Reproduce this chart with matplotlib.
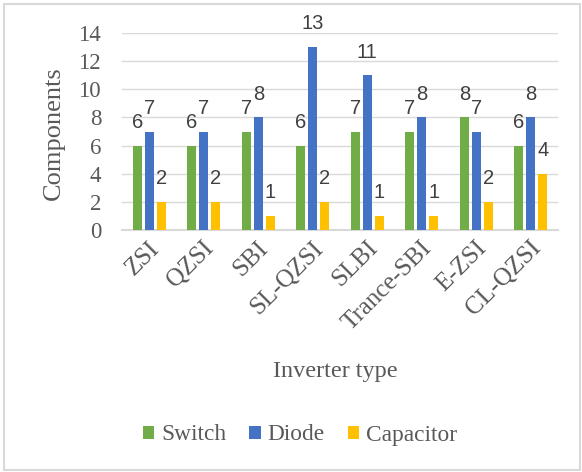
import matplotlib
matplotlib.use("Agg")
import matplotlib.pyplot as plt
import numpy as np
from matplotlib.patches import Rectangle
from matplotlib.transforms import ScaledTranslation

categories = ["ZSI", "QZSI", "SBI", "SL-QZSI", "SLBI", "Trance-SBI", "E-ZSI", "CL-QZSI"]
switch = [6, 6, 7, 6, 7, 7, 8, 6]
diode = [7, 7, 8, 13, 11, 8, 7, 8]
capacitor = [2, 2, 1, 2, 1, 1, 2, 4]
yticks = [0, 2, 4, 6, 8, 10, 12, 14]

series = [("Switch", switch, "#70AD47"),
          ("Diode", diode, "#4472C4"),
          ("Capacitor", capacitor, "#FFC000")]

text_color = "#595959"
grid_color = "#D9D9D9"
serif = "Liberation Serif"
sans = "Liberation Sans"

plt.rcParams["font.family"] = [serif, "DejaVu Serif"]

W, H = 582, 472
fig = plt.figure(figsize=(W / 100, H / 100), dpi=100)
ax = fig.add_axes([122 / W, 1 - 230 / H, (558 - 122) / W, (230 - 33) / H])

x = np.arange(len(categories))
width = 0.165
step = 0.22
for i, (name, vals, color) in enumerate(series):
    pos = x + (i - 1) * step
    ax.bar(pos, vals, width=width, color=color, label=name, zorder=3)
    for px, v in zip(pos, vals):
        ax.annotate(str(v), (px, v), xytext=(0, 12.7), textcoords="offset points",
                    ha="center", va="baseline", fontsize=14.5,
                    family=sans, color="#404040", zorder=4)

ax.set_xlim(-0.5, len(categories) - 0.5)
ax.set_ylim(0, 14)
ax.set_yticks(yticks)
ax.set_yticklabels([str(t) for t in yticks], fontsize=16.5, color=text_color)
ax.set_xticks(x)
ax.set_xticklabels(categories, fontsize=18, color=text_color, rotation=45,
                   ha="right", va="top", rotation_mode="anchor")
ax.tick_params(axis="both", length=0)
ax.tick_params(axis="y", pad=15)
ax.tick_params(axis="x", pad=0)
shift = ScaledTranslation(-1 / 100, -7 / 100, fig.dpi_scale_trans)
for lbl in ax.get_xticklabels():
    lbl.set_transform(lbl.get_transform() + shift)
ax.grid(axis="y", color=grid_color, linewidth=1.0, zorder=0)
for s in ["top", "right", "left"]:
    ax.spines[s].set_visible(False)
ax.spines["bottom"].set_color(grid_color)
ax.spines["bottom"].set_linewidth(1.5)

fig.text(54 / W, 1 - 133 / H, "Components", rotation=90, ha="center", va="center",
         fontsize=19, color=text_color)
fig.text(335 / W, 1 - 377 / H, "Inverter type", ha="center", va="baseline",
         fontsize=17.4, color=text_color)

leg = fig.legend(loc="center", bbox_to_anchor=(300 / W, 1 - 435 / H), ncol=3,
                 frameon=False, fontsize=16.8,
                 handlelength=0.49, handleheight=0.49, handletextpad=0.3,
                 columnspacing=0.98)
for t in leg.get_texts():
    t.set_color(text_color)

fig.patches.append(Rectangle((4 / W, 2 / H), 576 / W, 466 / H,
                             transform=fig.transFigure, fill=False,
                             edgecolor=grid_color, linewidth=1.5))

fig.savefig("out.png", dpi=100)
